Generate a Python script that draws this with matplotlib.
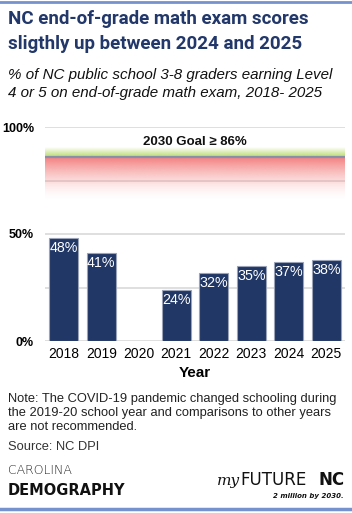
import numpy as np
import matplotlib
matplotlib.use('Agg')
import matplotlib.pyplot as plt
from matplotlib.lines import Line2D

years = ['2018', '2019', '2020', '2021', '2022', '2023', '2024', '2025']
scores = [48, 41, np.nan, 24, 32, 35, 37, 38]  # 2020 not tested
goal = 86

navy = '#213765'
W, H = 352, 513

fig = plt.figure(figsize=(W/100, H/100), dpi=100)
fig.patch.set_facecolor('white')

def fx(px): return px / W
def fy(py): return 1 - py / H

# top and bottom rules
fig.add_artist(Line2D([0, 1], [fy(2), fy(2)], color='#7592cf', lw=2))
fig.add_artist(Line2D([0, 1], [fy(509), fy(509)], color='#7592cf', lw=2.5))

# title / subtitle
fig.text(fx(8), fy(10), 'NC end-of-grade math exam scores\nsligthly up between 2024 and 2025',
         fontsize=13.5, fontweight='bold', color='#22386a', va='top', ha='left',
         family='Roboto', linespacing=1.5)
fig.text(fx(8), fy(68), '% of NC public school 3-8 graders earning Level\n4 or 5 on end-of-grade math exam, 2018- 2025',
         fontsize=10.9, style='italic', color='#111111', va='top', ha='left',
         family='Liberation Sans', linespacing=1.4)

ax = fig.add_axes([fx(45), fy(341), fx(345) - fx(45), (341 - 127) / H])
x = np.arange(len(years))
ax.set_xlim(-0.5, len(years) - 0.5)
ax.set_ylim(0, 100)

# goal band gradients
n = 200
green = np.zeros((n, 1, 4))
green[..., :3] = matplotlib.colors.to_rgb('#b9dc6c')
green[:, 0, 3] = np.linspace(1, 0, n)
ax.imshow(green, extent=(-0.5, len(years) - 0.5, goal, goal + 4.5), origin='lower',
          aspect='auto', zorder=1)
red = np.zeros((n, 1, 4))
red[..., :3] = matplotlib.colors.to_rgb('#f47f7f')
red[:, 0, 3] = np.linspace(0, 1, n) ** 1.6
ax.imshow(red, extent=(-0.5, len(years) - 0.5, goal - 20, goal), origin='lower',
          aspect='auto', zorder=1)
ax.axhline(goal, color='#8790a8', lw=1.6, zorder=2)
ax.text(np.mean(ax.get_xlim()), 93, '2030 Goal \u2265 86%', ha='center', va='center',
        fontsize=9.5, fontweight='bold', family='Liberation Sans', color='#111111', zorder=3)

for g in [25, 50, 75, 100]:
    ax.axhline(g, color='#d9d9d9', lw=1.2, zorder=0.5)

vals = np.array(scores, dtype=float)
mask = ~np.isnan(vals)
ax.bar(x[mask], vals[mask], width=0.78, color=navy, edgecolor='#9aa3b8', lw=0.8, zorder=4)
for xi, v in zip(x[mask], vals[mask]):
    ax.text(xi, v - 1.5, f'{v:.0f}%', ha='center', va='top', color='white',
            fontsize=10.3, family='Liberation Sans', zorder=5)

ax.axhline(0, color='#d9d9d9', lw=1.2, zorder=3)
ax.set_yticks([0, 50, 100])
ax.set_yticklabels(['0%', '50%', '100%'], fontsize=9, fontweight='bold', family='Liberation Sans')
ax.set_xticks(x)
ax.set_xticklabels(years, fontsize=10, family='Liberation Sans')
ax.tick_params(length=0, pad=4)
ax.tick_params(axis='y', pad=8)
ax.set_xlabel('Year', fontsize=11, fontweight='bold', family='Liberation Sans', labelpad=4)
for s in ax.spines.values():
    s.set_visible(False)

# note and source
fig.text(fx(8), fy(393), 'Note: The COVID-19 pandemic changed schooling during\nthe 2019-20 school year and comparisons to other years\nare not recommended.',
         fontsize=9.3, family='Liberation Sans', color='#222222', va='top', linespacing=1.2)
fig.text(fx(8), fy(441), 'Source: NC DPI', fontsize=9.3, family='Liberation Sans',
         color='#333333', va='top')

# logos as text
fig.text(fx(8), fy(476), 'CAROLINA', fontsize=9, family='DejaVu Sans',
         color='#222222', va='bottom', fontweight='light')
fig.text(fx(8), fy(498), 'DEMOGRAPHY', fontsize=10.5, family='DejaVu Sans',
         color='#111111', va='bottom', fontweight='bold')
fig.text(fx(217), fy(488), 'my', fontsize=11, style='italic', family='DejaVu Serif',
         color='#111111', va='bottom')
fig.text(fx(240), fy(489), 'FUTURE', fontsize=12, family='DejaVu Sans',
         color='#111111', va='bottom', ha='left')
fig.text(fx(345), fy(489), 'NC', fontsize=12, family='DejaVu Sans', fontweight='bold',
         color='#111111', va='bottom', ha='right')
fig.text(fx(344), fy(499), '2 million by 2030.', fontsize=5, style='italic',
         fontweight='bold', family='DejaVu Sans', color='#111111', va='bottom', ha='right')

fig.savefig('out.png', dpi=100)
